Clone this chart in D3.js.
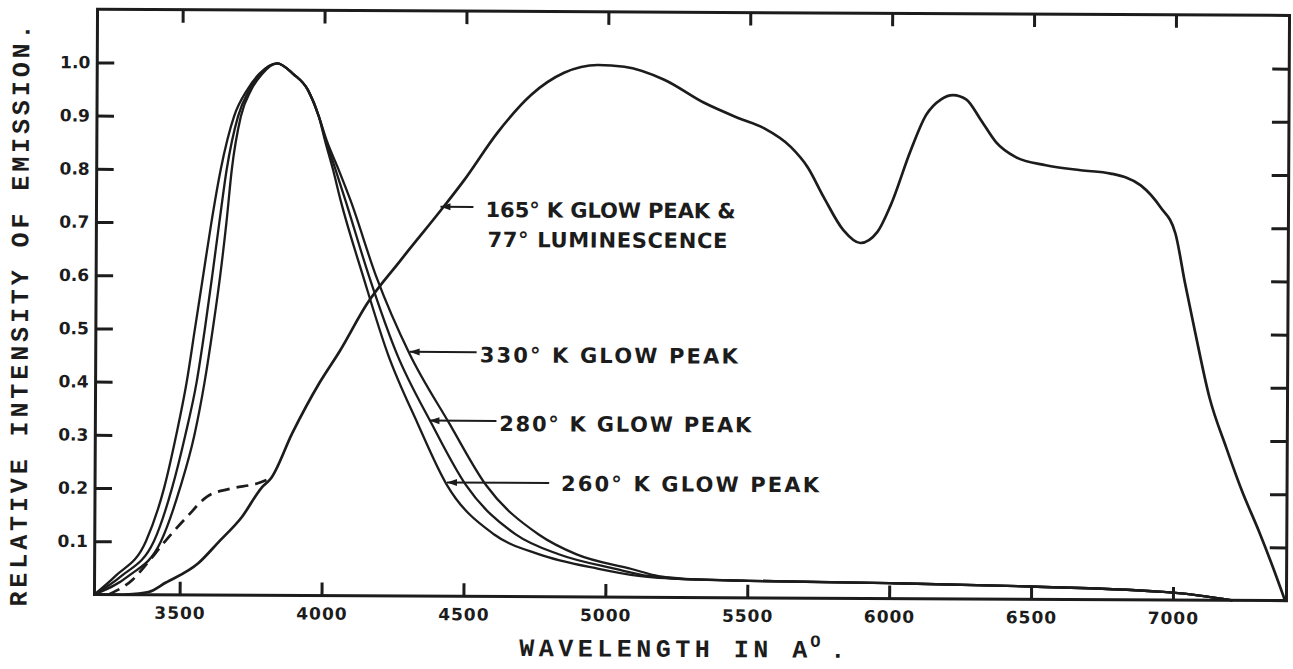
<!DOCTYPE html>
<html>
<head>
<meta charset="utf-8">
<script src="https://cdn.jsdelivr.net/npm/d3@7"></script>
<style>
  html, body { margin: 0; padding: 0; background: #fff; }
  svg { display: block; }
</style>
</head>
<body>
<div id="chart"></div>
<script>
// tick values
const wavelengthTicks = [3500, 4000, 4500, 5000, 5500, 6000, 6500, 7000];
const intensityTicks = [0.1, 0.2, 0.3, 0.4, 0.5, 0.6, 0.7, 0.8, 0.9, 1.0];

// [wavelength (A), relative intensity]
const glow330 = [
  [3200, 0], [3274, 0.035], [3380, 0.10], [3443, 0.20], [3485, 0.30],
  [3521, 0.40], [3549, 0.50], [3577, 0.60], [3605, 0.70], [3637, 0.80], [3683, 0.90],
  [3729, 0.95], [3771, 0.98], [3834, 1.0], [3891, 0.98], [3943, 0.95], [3982, 0.90],
  [4010, 0.855], [4053, 0.80], [4095, 0.743], [4187, 0.60], [4306, 0.455], [4447, 0.325],
  [4578, 0.209], [4764, 0.117], [4898, 0.08], [5092, 0.053], [5187, 0.04], [5328, 0.034],
  [5504, 0.032], [6000, 0.029], [6500, 0.024], [7000, 0.014], [7210, 0]
];
const glow280 = [
  [3200, 0], [3295, 0.035], [3408, 0.10], [3471, 0.20], [3517, 0.30],
  [3556, 0.40], [3584, 0.50], [3609, 0.60], [3633, 0.70], [3658, 0.80], [3697, 0.90],
  [3736, 0.95], [3774, 0.98], [3834, 1.0], [3891, 0.98], [3943, 0.95], [3982, 0.90],
  [4007, 0.855], [4042, 0.80], [4077, 0.743], [4162, 0.60], [4261, 0.455], [4384, 0.325],
  [4507, 0.209], [4683, 0.117], [4835, 0.08], [5036, 0.053], [5152, 0.04], [5311, 0.034],
  [5504, 0.032], [6000, 0.029], [6500, 0.024], [7000, 0.014], [7210, 0]
];
const glow260 = [
  [3200, 0], [3320, 0.035], [3433, 0.10], [3499, 0.20], [3549, 0.30],
  [3584, 0.40], [3612, 0.50], [3637, 0.60], [3658, 0.70], [3676, 0.80], [3707, 0.90],
  [3743, 0.95], [3781, 0.98], [3834, 1.0], [3891, 0.98], [3943, 0.95], [3982, 0.90],
  [4004, 0.855], [4033, 0.80], [4060, 0.743], [4141, 0.60], [4229, 0.455], [4335, 0.325],
  [4440, 0.209], [4606, 0.117], [4764, 0.08], [4976, 0.053], [5117, 0.04], [5293, 0.034],
  [5504, 0.032], [6000, 0.029], [6500, 0.024], [7000, 0.014], [7210, 0]
];
// 165 K glow peak & 77 K luminescence
const glow165 = [
  [3309, 0], [3390, 0.005], [3450, 0.0225], [3566, 0.06], [3637, 0.10], [3718, 0.147],
  [3788, 0.203], [3820, 0.22], [3894, 0.305], [3989, 0.40], [4060, 0.46], [4155, 0.549],
  [4271, 0.63], [4423, 0.732], [4493, 0.781], [4613, 0.873], [4729, 0.943], [4845, 0.985],
  [4965, 1.0], [5057, 0.997], [5198, 0.973], [5339, 0.93], [5459, 0.902], [5550, 0.883],
  [5645, 0.848], [5705, 0.81], [5762, 0.754], [5832, 0.692], [5892, 0.668], [5952, 0.689],
  [5998, 0.739], [6068, 0.843], [6121, 0.909], [6174, 0.939], [6216, 0.947], [6262, 0.939],
  [6315, 0.90], [6368, 0.859], [6438, 0.831], [6544, 0.816], [6667, 0.807], [6773, 0.801],
  [6879, 0.779], [6949, 0.738], [7002, 0.689], [7037, 0.595], [7072, 0.507], [7125, 0.381],
  [7185, 0.287], [7241, 0.206], [7301, 0.131], [7347, 0.069], [7395, 0]
];
// dashed low-wavelength branch of the 165 K curve
const glow165Dashed = [
  [3250, 0], [3334, 0.028], [3387, 0.06], [3447, 0.10], [3525, 0.147], [3595, 0.185],
  [3676, 0.20], [3771, 0.21], [3820, 0.22]
];

const labels165 = ["165\u00B0 K GLOW PEAK &", "77\u00B0 LUMINESCENCE"];
const label330 = "330\u00B0 K GLOW PEAK";
const label280 = "280\u00B0 K GLOW PEAK";
const label260 = "260\u00B0 K GLOW PEAK";

const width = 1293;
const height = 669;
const ink = "#1c1c1c";

const svg = d3.select("#chart").append("svg")
  .attr("width", width)
  .attr("height", height)
  .style("background", "#fff");

// the scanned page sits slightly rotated
const page = svg.append("g").attr("transform", "rotate(0.3, 690, 305)");

const x = d3.scaleLinear().domain([3200, 7400]).range([96, 1288]);
const y = d3.scaleLinear().domain([0, 1.1]).range([597.5, 12.3]);

function styleAxis(g) {
  g.select(".domain").remove();
  g.selectAll(".tick line").attr("stroke", ink).attr("stroke-width", 3);
  g.selectAll(".tick text")
    .attr("fill", ink)
    .attr("font-family", "'DejaVu Sans', sans-serif")
    .attr("font-weight", "bold")
    .attr("font-size", 17);
}

// bottom axis with labels
page.append("g")
  .attr("transform", `translate(0, ${y(0)})`)
  .call(d3.axisBottom(x).tickValues(wavelengthTicks).tickSize(-13).tickPadding(12).tickFormat(d3.format("d")))
  .call(styleAxis)
  .call((g) => g.selectAll(".tick text").attr("letter-spacing", 1));

// top axis, ticks only
page.append("g")
  .attr("transform", `translate(0, ${y(1.1)})`)
  .call(d3.axisTop(x).tickValues(wavelengthTicks).tickSize(-13).tickFormat(""))
  .call(styleAxis);

// left axis with labels
page.append("g")
  .attr("transform", `translate(${x(3200)}, 0)`)
  .call(d3.axisLeft(y).tickValues(intensityTicks).tickSize(-17).tickPadding(7).tickFormat(d3.format(".1f")))
  .call(styleAxis);

// right axis, ticks only
page.append("g")
  .attr("transform", `translate(${x(7400)}, 0)`)
  .call(d3.axisRight(y).tickValues(intensityTicks).tickSize(-17).tickFormat(""))
  .call(styleAxis);

// frame
page.append("rect")
  .attr("x", x(3200))
  .attr("y", y(1.1))
  .attr("width", x(7400) - x(3200))
  .attr("height", y(0) - y(1.1))
  .attr("fill", "none")
  .attr("stroke", ink)
  .attr("stroke-width", 3);

const line = d3.line()
  .x((d) => x(d[0]))
  .y((d) => y(d[1]))
  .curve(d3.curveMonotoneX);

const curves = page.append("g").attr("fill", "none").attr("stroke", ink);

[glow330, glow280, glow260].forEach((series) => {
  curves.append("path").attr("d", line(series)).attr("stroke-width", 2.3);
});

curves.append("path").attr("d", line(glow165)).attr("stroke-width", 2.7);
curves.append("path")
  .attr("d", line(glow165Dashed))
  .attr("stroke-width", 2.7)
  .attr("stroke-dasharray", "12,7");

// annotations
const notes = page.append("g")
  .attr("fill", ink)
  .attr("font-family", "'DejaVu Sans', sans-serif")
  .attr("font-weight", "bold")
  .attr("font-size", 21);

function arrow(w0, w1, v) {
  notes.append("line")
    .attr("x1", x(w0)).attr("x2", x(w1))
    .attr("y1", y(v)).attr("y2", y(v))
    .attr("stroke", ink).attr("stroke-width", 2);
  const tx = x(w0);
  const ty = y(v);
  notes.append("path")
    .attr("d", `M${tx},${ty}L${tx + 10},${ty - 3.5}L${tx + 10},${ty + 3.5}Z`);
}

function note(text, w, v, len) {
  notes.append("text")
    .attr("x", x(w))
    .attr("y", y(v))
    .attr("textLength", len)
    .attr("lengthAdjust", "spacing")
    .text(text);
}

note(labels165[0], 4571, 0.713, 250);
note(labels165[1], 4578, 0.657, 240);
arrow(4412, 4528, 0.732);

note(label330, 4553, 0.44, 258);
arrow(4306, 4542, 0.459);

note(label280, 4623, 0.311, 252);
arrow(4377, 4613, 0.33);

note(label260, 4842, 0.199, 258);
arrow(4440, 4800, 0.214);

// axis titles, typewriter style
page.append("text")
  .attr("transform", "translate(28, 610) rotate(-90)")
  .attr("font-family", "'Liberation Mono', monospace")
  .attr("font-weight", "bold")
  .attr("font-size", 25)
  .attr("fill", ink)
  .attr("textLength", 582)
  .attr("lengthAdjust", "spacing")
  .text("RELATIVE INTENSITY OF EMISSION.");

const xTitle = page.append("g")
  .attr("font-family", "'Liberation Mono', monospace")
  .attr("font-weight", "bold")
  .attr("fill", ink);

xTitle.append("text")
  .attr("x", 521)
  .attr("y", 657)
  .attr("font-size", 25)
  .attr("textLength", 288)
  .attr("lengthAdjust", "spacing")
  .text("WAVELENGTH IN A");

xTitle.append("text")
  .attr("x", 812)
  .attr("y", 646)
  .attr("font-size", 17)
  .text("O");

xTitle.append("text")
  .attr("x", 832)
  .attr("y", 657)
  .attr("font-size", 25)
  .text(".");
</script>
</body>
</html>
